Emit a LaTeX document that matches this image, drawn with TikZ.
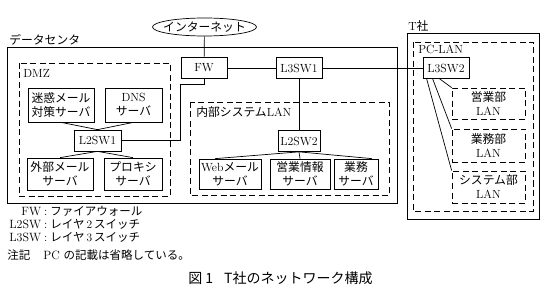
\documentclass[tikz,border=0pt]{standalone}
\usepackage{fontspec}
\newfontfamily\jp{Noto Sans CJK JP}
\usetikzlibrary{shapes.geometric, positioning}

\begin{document}
\begin{tikzpicture}[x=1pt, y=-1pt, line width=0.7pt,
    font=\fontsize{11.8}{14}\selectfont,
    dev/.style={draw, rectangle, inner sep=0pt, align=center},
    sw/.style={dev, minimum width=46pt, minimum height=21pt},
    lan/.style={dev, dash pattern=on 6pt off 3.5pt, minimum width=73pt},
    zone/.style={draw, dash pattern=on 6pt off 3.5pt},
    lbl/.style={anchor=west, inner sep=0pt}]
    \useasboundingbox (0,0) rectangle (549,294);

    % enclosures
    \draw (7,47) rectangle (397,203);
    \node [lbl] (dclbl) at (9,40) {\jp データセンタ};
    \draw [zone] (19,63) rectangle (170,196);
    \node [lbl] (dmzlbl) at (23,73) {DMZ};
    \draw [zone] (190,102) rectangle (389,195);
    \node [lbl] (inlbl) at (196,112) {{\jp 内部システム}LAN};
    \draw (407,33) rectangle (539,219);
    \node [lbl] (tlbl) at (408,26) {T{\jp 社}};
    \draw [zone] (413,42) rectangle (533,211);
    \node [lbl] (pclbl) at (418,49) {PC-LAN};

    % devices
    \node [draw, ellipse, inner sep=0pt, minimum width=104pt, minimum height=18pt] (net) at (204.5,27) {\makebox[0pt]{\jp インターネット}};
    \node [sw] (fw) at (204,68) {FW};
    \node [sw] (l3sw1) at (299,68) {L3SW1};
    \node [sw] (l3sw2) at (446,68) {L3SW2};

    \node [dev, minimum width=66pt, minimum height=34pt] (spam) at (61,105) {\jp 迷惑メール\\\jp 対策サーバ};
    \node [dev, minimum width=57pt, minimum height=34pt] (dns) at (133.5,105) {DNS\\\jp サーバ};
    \node [sw, minimum width=47pt] (l2sw1) at (97.5,140.5) {L2SW1};
    \node [dev, minimum width=66pt, minimum height=32pt] (extmail) at (60,174) {\jp 外部メール\\\jp サーバ};
    \node [dev, minimum width=58pt, minimum height=32pt] (proxy) at (133,174) {\jp プロキシ\\\jp サーバ};

    \node [sw, minimum width=42pt] (l2sw2) at (299,141) {L2SW2};
    \node [dev, minimum width=62pt, minimum height=30pt] (webmail) at (230,174) {Web{\jp メール}\\\jp サーバ};
    \node [dev, minimum width=60pt, minimum height=30pt] (salesinfo) at (300,174) {\jp 営業情報\\\jp サーバ};
    \node [dev, minimum width=44pt, minimum height=30pt] (biz) at (356,174) {\jp 業務\\\jp サーバ};

    \node [lan, minimum height=31pt] (salesln) at (488.5,103.5) {\jp 営業部\\LAN};
    \node [lan, minimum height=33pt] (bizln) at (488.5,145.5) {\jp 業務部\\LAN};
    \node [lan, minimum height=32pt] (sysln) at (488.5,187) {\jp システム部\\LAN};

    % links
    \coordinate (bend) at (180,84);
    \draw (net) -- (fw);
    \draw (fw) -- (l3sw1);
    \draw (l3sw1) -- (l3sw2);
    \draw (l3sw1) -- (l2sw2);
    \draw (l2sw1.east) -| (bend) -| (fw.south);
    \draw (spam.south) -- (l2sw1.north) -- (dns.south);
    \draw (extmail.north) -- (l2sw1.south) -- (proxy.north);
    \draw ([xshift=-15pt]webmail.north) -- (l2sw2.south) -- ([xshift=16pt]biz.north);
    \draw (l2sw2.south) -- (salesinfo.north);
    \draw ([xshift=17pt]l3sw2.south west) -- (salesln.north west);
    \draw ([xshift=10pt]l3sw2.south west) -- (bizln.north west);
    \draw ([xshift=4pt]l3sw2.south west) -- (sysln.north west);

    % legend
    \node [anchor=north west, inner sep=0pt, font=\fontsize{12}{13}\selectfont] (legend) at (9,206)
      {\begin{tabular}{@{}r@{\hspace{3pt}:\hspace{3pt}}l@{}}
        FW & \fontsize{11.5}{13}\selectfont\jp ファイアウォール\\
        L2SW & \fontsize{11.5}{13}\selectfont{\jp レイヤ}\,2\,{\jp スイッチ}\\
        L3SW & \fontsize{11.5}{13}\selectfont{\jp レイヤ}\,3\,{\jp スイッチ}
      \end{tabular}};
    \node [lbl, font=\fontsize{11.5}{13}\selectfont] (note) at (7,255) {{\jp 注記}\hspace{13pt}\fontsize{12}{13}\selectfont PC {\jp\fontsize{11.5}{13}\selectfont の記載は省略している。}};
    \node [lbl, font=\fontsize{14}{16}\selectfont] (caption) at (188,278) {\jp 図\hspace{3pt}1\hspace{11pt}T社のネットワーク構成};
\end{tikzpicture}
\end{document}
